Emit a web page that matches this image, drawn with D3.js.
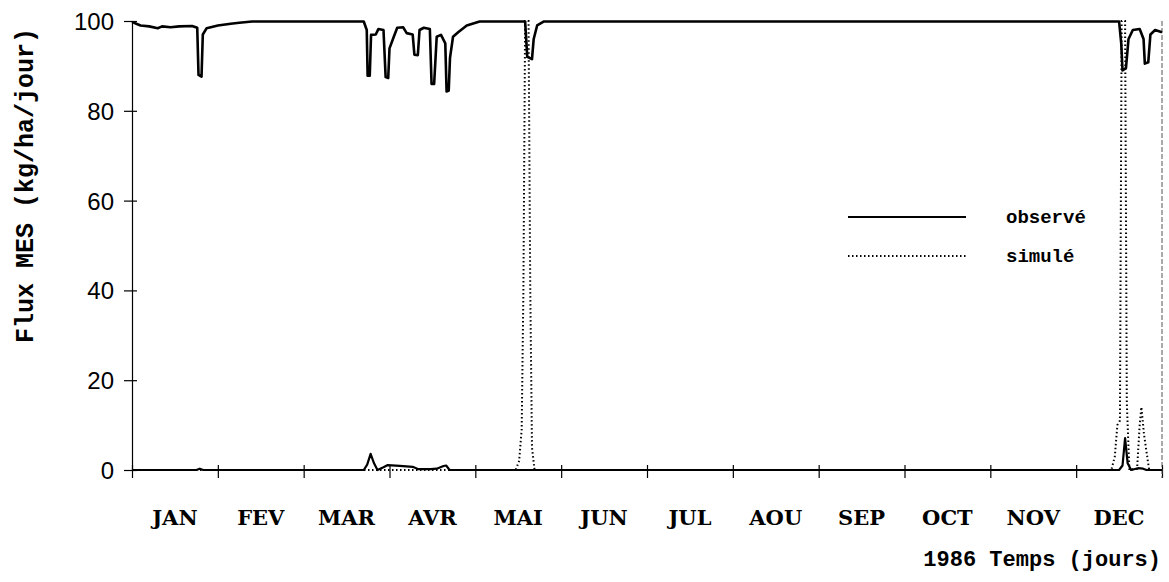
<!DOCTYPE html>
<html><head><meta charset="utf-8">
<script src="https://cdn.jsdelivr.net/npm/d3@7"></script>
<style>body{margin:0;background:#fff}svg{display:block}</style>
</head><body>
<svg id="chart" width="1169" height="582"></svg>
<script>
// ---- data (x in months from Jan 1, y in kg/ha/jour) ----
const months = ["JAN","FEV","MAR","AVR","MAI","JUN","JUL","AOU","SEP","OCT","NOV","DEC"];
const yTicks = [0, 20, 40, 60, 80, 100];
// observed flux, upper trace (near 100)
const observedUpper = [
  [0,99.8],[0.05,99.4],[0.1,99],[0.2,98.8],[0.3,98.4],[0.35,98.8],[0.45,98.6],[0.55,98.8],[0.7,98.9],
  [0.76,98.5],[0.775,88],[0.81,87.6],[0.825,97],[0.87,98.4],[1.0,99],[1.15,99.4],[1.25,99.6],[1.4,99.9],
  [2.7,99.9],[2.735,98],[2.745,87.8],[2.77,87.8],[2.785,96.9],[2.84,97],[2.87,98.2],[2.93,98],
  [2.955,87.5],[2.985,87.3],[3.0,93.9],[3.05,96.5],[3.09,98.5],[3.16,98.6],[3.2,97.3],[3.27,97],
  [3.29,92.5],[3.33,92.4],[3.35,98.0],[3.4,98.5],[3.47,98.2],[3.49,86],[3.52,86],[3.55,96.5],
  [3.6,96.9],[3.65,95],[3.665,84.3],[3.69,84.5],[3.705,91.8],[3.74,96.5],[3.8,97.5],[3.9,99],
  [4.05,99.9],[4.58,99.9],[4.605,92],[4.66,91.5],[4.68,96],[4.72,99],[4.8,99.9],
  [11.5,99.9],[11.525,95],[11.54,89],[11.58,89.5],[11.61,96],[11.66,98],[11.74,98.2],[11.785,96],
  [11.8,90.5],[11.84,90.8],[11.865,97],[11.92,98],[12,97.5]
];
// observed flux, lower trace (near 0)
const observedLower = [
  [0,0],[0.75,0],[0.79,0.3],[0.83,0],[2.7,0],[2.74,1.2],[2.78,3.6],[2.82,1.5],[2.86,0],
  [2.93,0.6],[2.98,1.1],[3.12,0.9],[3.27,0.7],[3.33,0.2],[3.48,0.2],[3.55,0.3],[3.63,0.9],[3.66,1.0],
  [3.7,0],[11.5,0],[11.54,1],[11.57,7.1],[11.6,1.5],[11.64,0],[11.72,0.4],[11.78,0.3],[11.82,0],[12,0]
];
// simulated flux
const simule = [
  [0,0],[4.47,0],[4.51,2],[4.54,9],[4.56,40],[4.58,100],[4.62,100],[4.64,40],[4.66,5],[4.69,0],
  [11.41,0],[11.45,3],[11.48,10],[11.51,11],[11.53,100],[11.57,100],[11.59,15],[11.62,0],
  [11.71,0.3],[11.74,10],[11.76,14],[11.79,8],[11.85,0],[12,0]
];

// ---- layout ----
const svg = d3.select("#chart");
const x = d3.scaleLinear().domain([0, 12]).range([132, 1162]);
const y = d3.scaleLinear().domain([0, 100]).range([470, 21]);

svg.append("defs").append("clipPath").attr("id","plot")
  .append("rect").attr("x",130).attr("y",18).attr("width",1036).attr("height",456);

// y axis
const yAxis = svg.append("g").attr("transform","translate(132,0)")
  .call(d3.axisLeft(y).tickValues(yTicks).tickSize(8).tickPadding(10).tickFormat(d3.format("d")));
yAxis.select(".domain").attr("stroke","#000").attr("stroke-width",1.2);
yAxis.selectAll(".tick line").attr("x2",5).attr("x1",-8).attr("stroke","#000").attr("stroke-width",1.2);
yAxis.selectAll("text").attr("font-family","Liberation Sans, Arial, sans-serif").attr("font-size",24)
  .attr("fill","#000").attr("dy","0.35em");

// x axis
const monthTicks = d3.range(0, 13);
const xAxis = svg.append("g").attr("transform","translate(0,470)")
  .call(d3.axisBottom(x).tickValues(monthTicks).tickSize(8).tickFormat(""));
xAxis.select(".domain").remove();
xAxis.selectAll(".tick line").attr("y1",-5).attr("y2",8).attr("stroke","#000").attr("stroke-width",1.2);
svg.append("g").selectAll("text").data(months).join("text")
  .attr("x",(d,i)=>x(i+0.5)).attr("y",525).attr("text-anchor","middle")
  .attr("font-family","DejaVu Serif, serif").attr("font-weight","bold").attr("font-size",21)
  .text(d=>d);

// right border (faint dashed)
svg.append("line").attr("x1",x(12)).attr("x2",x(12)).attr("y1",y(100)).attr("y2",y(0)+8)
  .attr("stroke","#555").attr("stroke-width",1).attr("stroke-dasharray","5,2");

// lines
const line = d3.line().x(d=>x(d[0])).y(d=>y(d[1]));
const g = svg.append("g").attr("clip-path","url(#plot)");
g.append("path").datum(simule).attr("d",line).attr("fill","none").attr("stroke","#000")
  .attr("stroke-width",2).attr("stroke-dasharray","1.5,2.5");
g.append("path").datum(observedLower).attr("d",line).attr("fill","none").attr("stroke","#000")
  .attr("stroke-width",2.2).attr("stroke-linejoin","round");
g.append("path").datum(observedUpper).attr("d",line).attr("fill","none").attr("stroke","#000")
  .attr("stroke-width",2.6).attr("stroke-linejoin","round");

// legend
const legend = [{label:"observé", dash:null, y:217},{label:"simulé", dash:"1.5,2.5", y:256}];
legend.forEach(l=>{
  svg.append("line").attr("x1",848).attr("x2",966).attr("y1",l.y).attr("y2",l.y)
    .attr("stroke","#000").attr("stroke-width",2).attr("stroke-dasharray",l.dash);
  svg.append("text").attr("x",1006).attr("y",l.y).attr("dy","0.32em")
    .attr("font-family","Liberation Mono, monospace").attr("font-weight","bold").attr("font-size",19)
    .text(l.label);
});

// axis titles
svg.append("text").attr("transform","translate(33,28) rotate(-90)").attr("text-anchor","end")
  .attr("font-family","Liberation Mono, monospace").attr("font-weight","bold").attr("font-size",25)
  .text("Flux MES (kg/ha/jour)");
svg.append("text").attr("x",1161).attr("y",566).attr("text-anchor","end")
  .attr("font-family","Liberation Mono, monospace").attr("font-weight","bold").attr("font-size",22)
  .text("1986 Temps (jours)");
</script>
</body></html>
